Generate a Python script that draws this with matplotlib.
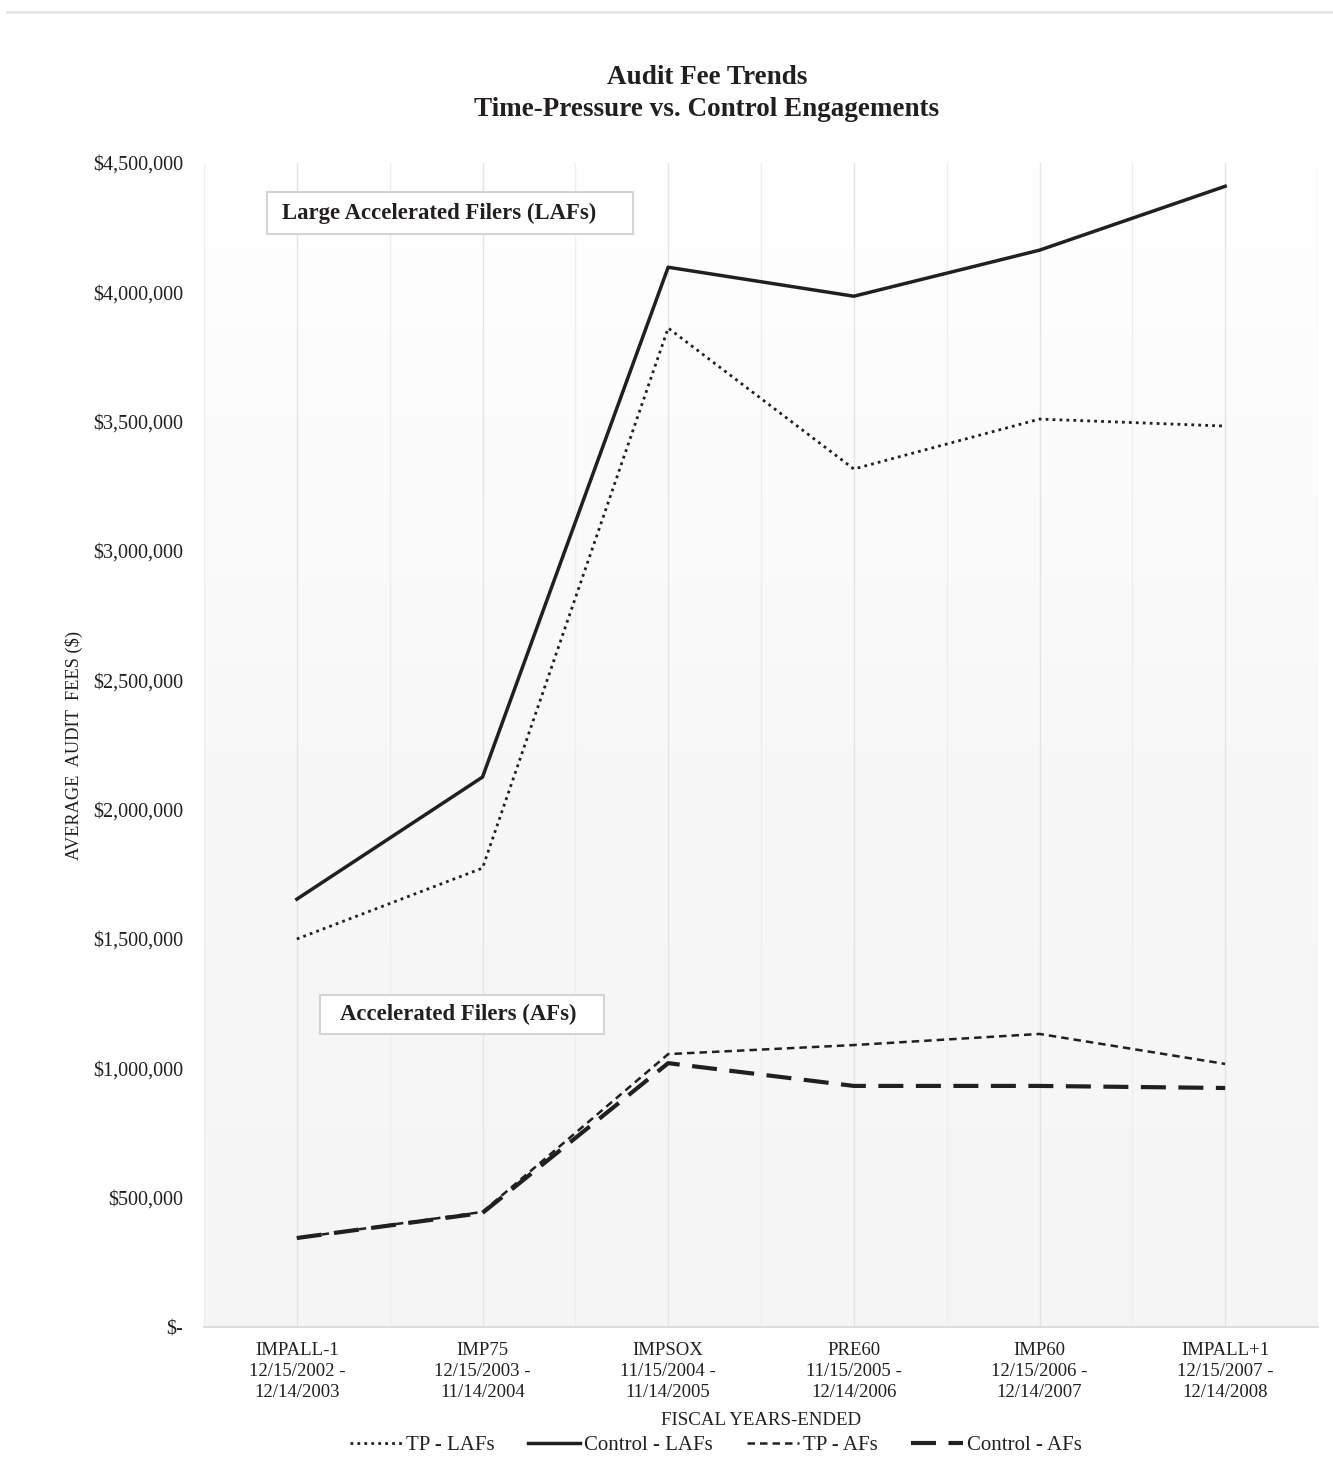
import matplotlib
matplotlib.use("Agg")
import matplotlib.pyplot as plt
from matplotlib.lines import Line2D
from matplotlib.patches import Rectangle
from matplotlib.colors import LinearSegmentedColormap
import numpy as np

categories = ["IMPALL-1\n12/15/2002 -\n12/14/2003",
              "IMP75\n12/15/2003 -\n11/14/2004",
              "IMPSOX\n11/15/2004 -\n11/14/2005",
              "PRE60\n11/15/2005 -\n12/14/2006",
              "IMP60\n12/15/2006 -\n12/14/2007",
              "IMPALL+1\n12/15/2007 -\n12/14/2008"]
tp_lafs = [1500000, 1774000, 3862000, 3317000, 3510000, 3483000]
control_lafs = [1654000, 2126000, 4097000, 3985000, 4163000, 4410000]
tp_afs = [344000, 445000, 1055000, 1090000, 1133000, 1017000]
control_afs = [344000, 441000, 1020000, 932000, 932000, 924000]
yticks = [0, 500000, 1000000, 1500000, 2000000, 2500000, 3000000, 3500000, 4000000, 4500000]
ytick_labels = ["$-", "$500,000", "$1,000,000", "$1,500,000", "$2,000,000", "$2,500,000",
                "$3,000,000", "$3,500,000", "$4,000,000", "$4,500,000"]

plt.rcParams['font.family'] = ['Liberation Serif', 'DejaVu Serif']

fig = plt.figure(figsize=(13.33, 14.61), dpi=100)
W, H = 1333, 1461
ax = fig.add_axes([204 / W, 1 - 1327 / H, (1318 - 204) / W, (1327 - 163) / H])

fig.add_artist(Line2D([0.005, 1], [1 - 12 / H, 1 - 12 / H], color="#e6e6e6", lw=2,
                      transform=fig.transFigure))

x = np.arange(len(categories))
ax.set_xlim(-0.5, len(categories) - 0.5)
ax.set_ylim(0, 4500000)

grad = np.linspace(0, 1, 256).reshape(-1, 1)
cmap = LinearSegmentedColormap.from_list("bg", ["#f5f5f5", "#f8f8f8", "#ffffff"])
ax.imshow(grad, extent=[-0.5, len(categories) - 0.5, 0, 4500000], origin="lower",
          aspect="auto", cmap=cmap, zorder=0)

for xv in np.arange(-0.5, len(categories), 0.5):
    ax.axvline(xv, color="#e4e4e4" if xv == int(xv) else "#eeeeee", lw=1.0, zorder=1)

ink = "#231f20"
ax.plot(x, tp_lafs, color=ink, lw=2.0, linestyle=(0, (1, 1.5)), zorder=3)
ax.plot(x, control_lafs, color=ink, lw=2.5, linestyle="-", zorder=3)
ax.plot(x, tp_afs, color=ink, lw=1.8, linestyle=(0, (3, 2)), zorder=3)
ax.plot(x, control_afs, color=ink, lw=3.0, linestyle=(0, (6, 3)), zorder=3)

ax.set_xticks(x)
ax.set_xticklabels(categories, fontsize=13.5, color=ink, linespacing=1.3)
ax.set_yticks(yticks)
ax.set_yticklabels(ytick_labels, fontsize=14.5, color=ink)
ax.tick_params(axis="both", length=0)
ax.tick_params(axis="x", pad=11)
ax.tick_params(axis="y", pad=15)
for s in ["top", "right", "left"]:
    ax.spines[s].set_visible(False)
ax.spines["bottom"].set_color("#dddddd")
ax.spines["bottom"].set_linewidth(1.5)

ax.set_ylabel("AVERAGE  AUDIT  FEES ($)", fontsize=13.2, color=ink, labelpad=7)
ax.set_xlabel("FISCAL YEARS-ENDED", fontsize=13.6, color=ink, labelpad=8)

fig.text(707 / W, 1 - 78 / H, "Audit Fee Trends", ha="center", va="center",
         fontsize=19.5, fontweight="bold", color=ink)
fig.text(707 / W, 1 - 109 / H, "Time-Pressure vs. Control Engagements", ha="center", va="center",
         fontsize=19.5, fontweight="bold", color=ink)

def box(x0, y0, x1, y1, text, tx):
    fig.add_artist(Rectangle((x0 / W, 1 - y1 / H), (x1 - x0) / W, (y1 - y0) / H,
                             transform=fig.transFigure, facecolor="white",
                             edgecolor="#d4d4d4", lw=1.5, zorder=5))
    fig.text(tx / W, 1 - (y0 + y1) / 2 / H, text, ha="left", va="center",
             fontsize=16.4, fontweight="bold", color=ink, zorder=6)

box(267, 192, 633, 234, "Large Accelerated Filers (LAFs)", 282)
box(320, 995, 604, 1034, "Accelerated Filers (AFs)", 340)

handles = [Line2D([], [], color=ink, lw=2.0, linestyle=(0, (1, 1.5))),
           Line2D([], [], color=ink, lw=2.5, linestyle="-"),
           Line2D([], [], color=ink, lw=1.8, linestyle=(0, (3, 2))),
           Line2D([], [], color=ink, lw=3.0, linestyle=(0, (6, 3)))]
labels = ["TP - LAFs", "Control - LAFs", "TP - AFs", "Control - AFs"]
fig.legend(handles, labels, loc="center", bbox_to_anchor=(716 / W, 1 - 1445 / H), ncol=4,
           frameon=False, fontsize=15, handlelength=2.5, handletextpad=0.2,
           columnspacing=1.6, labelcolor=ink)

fig.savefig("out.png", dpi=100)
